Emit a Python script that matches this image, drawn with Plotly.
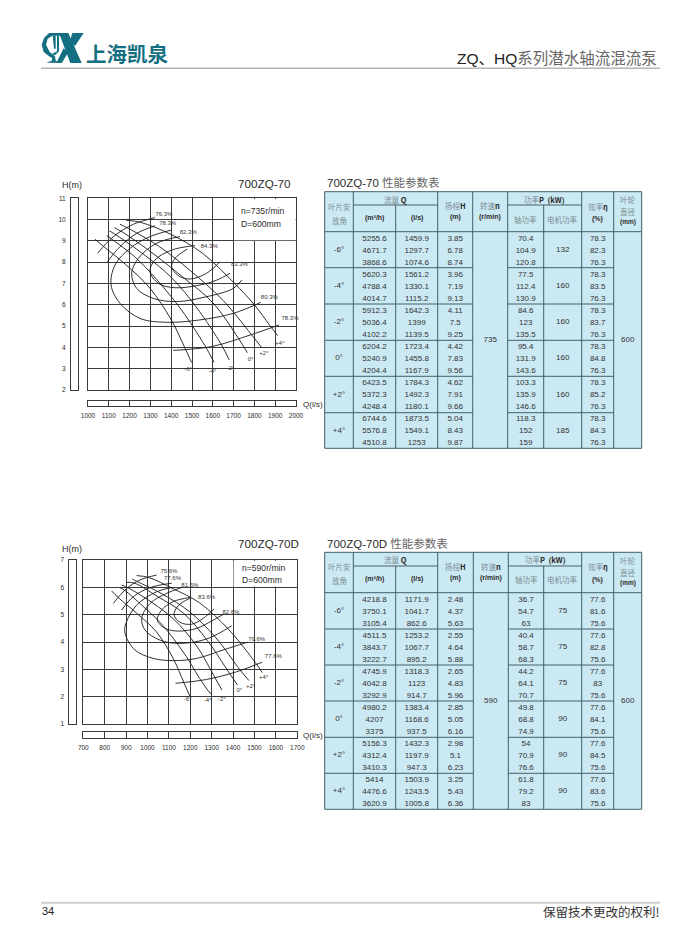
import plotly.graph_objects as go

W, H = 700, 950
SANS = "Liberation Sans, Arial, sans-serif"
CJK = "Noto Sans CJK SC, sans-serif"
TEAL = "#146f82"
GRID = "#3a3a3a"
INK = "#2b2b2b"
CJKGREY = "#7d8f95"
FILL = "#cbe9f2"
RULE = "#40606a"

# ---------- chart 1: 700ZQ-70 ----------
C1_ANGLE_LABELS = ["-6°", "-4°", "-2°", "0°", "+2°", "+4°"]
C1_ANGLE_Q = [1482, 1599, 1684, 1782, 1846, 1923]
C1_ANGLE_H = [2.94, 2.89, 2.99, 3.44, 3.69, 4.19]
C1_HQ_Q = [
    [1034, 1074.6, 1180, 1297.7, 1400, 1459.9, 1498],
    [1090, 1225, 1330, 1450, 1561, 1606],
    [1103, 1139.5, 1270, 1399, 1520, 1642.3, 1679],
    [1127, 1167.9, 1300, 1455.8, 1600, 1723.4, 1766],
    [1154, 1180, 1340, 1492.3, 1650, 1784.3, 1835],
    [1183, 1253, 1400, 1549.1, 1700, 1800, 1873.5, 1912],
]
C1_HQ_H = [
    [9.08, 8.74, 7.9, 6.78, 5.3, 4.1, 3.29],
    [9.25, 8.25, 7.19, 5.75, 4.1, 3.3],
    [9.47, 9.25, 8.35, 7.3, 5.9, 4.11, 3.41],
    [9.62, 9.4, 8.5, 7.3, 6.1, 4.42, 3.75],
    [9.78, 9.66, 8.75, 7.6, 6.2, 4.62, 3.99],
    [9.97, 9.87, 9.3, 8.43, 7.05, 6.0, 5.04, 4.55],
]
C1_EFF_Q = [
    [1046.5, 1122, 1218, 1322],
    [1093, 1154, 1234, 1322],
    [1402, 1298, 1202, 1130, 1111, 1154, 1250, 1378, 1538, 1699, 1830],
    [1442, 1330, 1242, 1210, 1234, 1314, 1426, 1570, 1699, 1739],
    [1514, 1402, 1322, 1298, 1338, 1418, 1538, 1619, 1683],
    [1478, 1418, 1402, 1434, 1490, 1570, 1635],
    [1410, 1595, 1779, 1918],
]
C1_EFF_H = [
    [8.42, 9.20, 9.78, 10.09],
    [8.02, 8.73, 9.35, 9.71],
    [9.51, 9.20, 8.65, 7.87, 6.93, 6.07, 5.36, 5.18, 5.29, 5.60, 6.11],
    [9.20, 8.89, 8.18, 7.48, 6.77, 6.30, 6.15, 6.38, 6.77, 7.16],
    [8.78, 8.57, 8.10, 7.56, 7.01, 6.80, 6.93, 7.16, 7.48],
    [8.62, 8.18, 7.79, 7.37, 7.21, 7.48, 8.02],
    [3.86, 4.04, 4.58, 5.05],
]
C1_EFF_LABELS = ["76.3%", "78.3%", "82.3%", "84.3%", "83.3%", "80.3%", "78.3%"]
C1_EFF_LQ = [1365, 1383, 1482, 1583, 1728, 1872, 1971]
C1_EFF_LH = [10.22, 9.83, 9.40, 8.76, 7.87, 6.35, 5.37]

# ---------- chart 2: 700ZQ-70D ----------
C2_ANGLE_LABELS = ["-6°", "-4°", "-2°", "0°", "+2°", "+4°"]
C2_ANGLE_Q = [1188, 1281, 1348, 1429, 1482, 1543]
C2_ANGLE_H = [1.88, 1.85, 1.91, 2.22, 2.39, 2.70]
C2_HQ_Q = [
    [832, 862.6, 950, 1041.7, 1120, 1171.9, 1198],
    [871, 895.2, 980, 1067.7, 1170, 1253.2, 1295],
    [879, 914.7, 1020, 1123, 1230, 1318.3, 1348],
    [902, 937.5, 1050, 1168.6, 1280, 1383.4, 1420],
    [929, 947.3, 1070, 1197.9, 1320, 1432.3, 1474],
    [949, 1005.8, 1120, 1243.5, 1380, 1503.9, 1536],
]
C2_HQ_H = [
    [5.87, 5.63, 5.05, 4.37, 3.4, 2.48, 2.02],
    [5.99, 5.88, 5.3, 4.64, 3.6, 2.55, 2.10],
    [6.09, 5.96, 5.45, 4.83, 3.85, 2.65, 2.24],
    [6.18, 6.16, 5.65, 5.05, 4.05, 2.85, 2.43],
    [6.30, 6.23, 5.75, 5.1, 4.15, 2.98, 2.59],
    [6.43, 6.36, 5.95, 5.43, 4.45, 3.25, 2.88],
]
C2_EFF_Q = [
    [840, 903, 965, 1043],
    [879, 934, 1012, 1113],
    [1113, 1043, 949, 899, 895, 941, 1027, 1121, 1230, 1354, 1466],
    [1159, 1089, 1012, 973, 988, 1058, 1152, 1276, 1393],
    [1198, 1121, 1066, 1046, 1082, 1144, 1230, 1300, 1354],
    [1198, 1144, 1124, 1152, 1206, 1261, 1311],
    [1131, 1276, 1416, 1536],
]
C2_EFF_H = [
    [5.41, 5.96, 6.27, 6.45],
    [5.17, 5.66, 5.99, 6.15],
    [5.99, 5.84, 5.35, 4.68, 4.32, 3.71, 3.40, 3.32, 3.40, 3.71, 3.99],
    [5.99, 5.78, 5.41, 4.87, 4.44, 4.07, 3.95, 4.11, 4.59],
    [5.63, 5.48, 5.17, 4.80, 4.50, 4.40, 4.50, 4.77, 5.01],
    [5.60, 5.33, 4.99, 4.72, 4.65, 4.87, 5.21],
    [2.49, 2.63, 2.91, 3.26],
]
C2_EFF_LABELS = ["75.6%", "77.6%", "81.5%", "83.6%", "82.6%", "79.6%", "77.6%"]
C2_EFF_LQ = [1100, 1117, 1198, 1276, 1390, 1510, 1588]
C2_EFF_LH = [6.57, 6.33, 6.06, 5.62, 5.09, 4.10, 3.46]

# ---------- tables ----------
T1_ANGLES = ["-6°", "-4°", "-2°", "0°", "+2°", "+4°"]
T1_M3H = ["5255.6", "4671.7", "3868.6", "5620.3", "4788.4", "4014.7", "5912.3", "5036.4", "4102.2",
          "6204.2", "5240.9", "4204.4", "6423.5", "5372.3", "4248.4", "6744.6", "5576.8", "4510.8"]
T1_LS = ["1459.9", "1297.7", "1074.6", "1561.2", "1330.1", "1115.2", "1642.3", "1399", "1139.5",
         "1723.4", "1455.8", "1167.9", "1784.3", "1492.3", "1180.1", "1873.5", "1549.1", "1253"]
T1_HEAD = ["3.85", "6.78", "8.74", "3.96", "7.19", "9.13", "4.11", "7.5", "9.25",
           "4.42", "7.83", "9.56", "4.62", "7.91", "9.66", "5.04", "8.43", "9.87"]
T1_SHAFT = ["70.4", "104.9", "120.8", "77.5", "112.4", "130.9", "84.6", "123", "135.5",
            "95.4", "131.9", "143.6", "103.3", "135.9", "146.6", "118.3", "152", "159"]
T1_MOTOR = ["132", "160", "160", "160", "160", "185"]
T1_EFF = ["78.3", "82.3", "76.3", "78.3", "83.5", "76.3", "78.3", "83.7", "76.3",
          "78.3", "84.8", "76.3", "78.3", "85.2", "76.3", "78.3", "84.3", "76.3"]

T2_ANGLES = ["-6°", "-4°", "-2°", "0°", "+2°", "+4°"]
T2_M3H = ["4218.8", "3750.1", "3105.4", "4511.5", "3843.7", "3222.7", "4745.9", "4042.8", "3292.9",
          "4980.2", "4207", "3375", "5156.3", "4312.4", "3410.3", "5414", "4476.6", "3620.9"]
T2_LS = ["1171.9", "1041.7", "862.6", "1253.2", "1067.7", "895.2", "1318.3", "1123", "914.7",
         "1383.4", "1168.6", "937.5", "1432.3", "1197.9", "947.3", "1503.9", "1243.5", "1005.8"]
T2_HEAD = ["2.48", "4.37", "5.63", "2.55", "4.64", "5.88", "2.65", "4.83", "5.96",
           "2.85", "5.05", "6.16", "2.98", "5.1", "6.23", "3.25", "5.43", "6.36"]
T2_SHAFT = ["36.7", "54.7", "63", "40.4", "58.7", "68.3", "44.2", "64.1", "70.7",
            "49.8", "68.8", "74.9", "54", "70.9", "76.6", "61.8", "79.2", "83"]
T2_MOTOR = ["75", "75", "75", "90", "90", "90"]
T2_EFF = ["77.6", "81.6", "75.6", "77.6", "82.8", "75.6", "77.6", "83", "75.6",
          "77.6", "84.1", "75.6", "77.6", "84.5", "75.6", "77.6", "83.6", "75.6"]

# logo outline polygons, read from the letterhead
LOGO = [
    [(42, 15), (27, 30), (20, 50), (26, 72), (42, 85), (52, 90), (50, 98), (34, 104), (74, 104), (62, 98), (60, 85),
     (44, 72), (33, 50), (38, 32), (52, 23), (90, 23), (90, 15)],
    [(53, 23), (62, 23), (62, 62), (57, 62)],
    [(72, 23), (66, 23), (66, 70), (50, 78), (60, 82), (72, 70)],
    [(72, 15), (100, 15), (140, 105), (106, 105)],
    [(112, 15), (146, 15), (120, 54), (104, 42)],
    [(86, 60), (98, 76), (80, 105), (64, 105)],
]

fig = go.Figure()
shapes, annots = [], []
layout_axes = {}


def xdom(a, b):
    return [a / W, b / W]


def ydom(top, bottom):
    return [1 - bottom / H, 1 - top / H]


def add_axes(n, xdomain, ydomain, xcfg, ycfg):
    sx = "" if n == 1 else str(n)
    base = dict(showline=True, linecolor=GRID, linewidth=1, mirror=True, zeroline=False, showgrid=False,
                showticklabels=False, ticks="", fixedrange=True, automargin=False)
    layout_axes["xaxis" + sx] = {**base, "domain": xdomain, "anchor": "y" + sx, **xcfg}
    layout_axes["yaxis" + sx] = {**base, "domain": ydomain, "anchor": "x" + sx, **ycfg}
    return "x" + sx, "y" + sx


def chart(n, box, xr, yr, strip_x, strip_y, info_x0, info_y0, data):
    left, right, top, bottom = box
    grid = dict(showgrid=True, gridcolor=GRID, gridwidth=1)
    xa, ya = add_axes(n, xdom(left, right), ydom(top, bottom),
                      dict(range=xr, dtick=100, tick0=xr[0], **grid), dict(range=yr, dtick=1, tick0=yr[0], **grid))
    # strip with Q ticks
    xs, ys = add_axes(n + 1, xdom(left, right), ydom(*strip_y),
                      dict(range=xr, dtick=100, tick0=xr[0], showgrid=True, gridcolor=GRID, gridwidth=1,
                           showticklabels=True, ticks="outside", ticklen=3, tickcolor="rgba(0,0,0,0)",
                           tickfont=dict(family=SANS, size=6.5, color=INK)),
                      dict(range=[0, 1]))
    # strip with H ticks
    xh, yh = add_axes(n + 2, xdom(*strip_x), ydom(top, bottom),
                      dict(range=[0, 1]),
                      dict(range=yr, dtick=1, tick0=yr[0], showticklabels=True, ticks="outside", ticklen=3,
                           tickcolor="rgba(0,0,0,0)", tickfont=dict(family=SANS, size=6.5, color=INK)))
    for a, b in ((xs, ys), (xh, yh)):
        fig.add_trace(go.Scatter(x=[None], y=[None], xaxis=a, yaxis=b, showlegend=False, hoverinfo="skip"))
    # blank the grid behind the info box
    shapes.append(dict(type="rect", xref=xa, yref=ya, layer="between", line_width=0, fillcolor="white",
                       x0=info_x0 + 2, x1=xr[1] - 2, y0=info_y0 + 0.03, y1=yr[1] - 0.03))
    for q, h in zip(data["hq_q"], data["hq_h"]):
        fig.add_trace(go.Scatter(x=q, y=h, xaxis=xa, yaxis=ya, mode="lines", showlegend=False, hoverinfo="skip",
                                 line=dict(color="#1a1a1a", width=0.9, shape="spline", smoothing=1)))
    for q, h in zip(data["eff_q"], data["eff_h"]):
        fig.add_trace(go.Scatter(x=q, y=h, xaxis=xa, yaxis=ya, mode="lines", showlegend=False, hoverinfo="skip",
                                 line=dict(color="#1a1a1a", width=0.9, shape="spline", smoothing=1)))
    fig.add_trace(go.Scatter(x=data["ang_q"] + data["lab_q"], y=data["ang_h"] + data["lab_h"],
                             text=data["ang"] + data["lab"], xaxis=xa, yaxis=ya, mode="text", cliponaxis=False,
                             showlegend=False, hoverinfo="skip",
                             textfont=dict(family=SANS, size=6, color="#333333")))


chart(1, (88, 296, 198.3, 390), [1000, 2000], [2, 11], (71, 78), (400.7, 406), 1700, 9,
      dict(hq_q=C1_HQ_Q, hq_h=C1_HQ_H, eff_q=C1_EFF_Q, eff_h=C1_EFF_H, ang=C1_ANGLE_LABELS, ang_q=C1_ANGLE_Q,
           ang_h=C1_ANGLE_H, lab=C1_EFF_LABELS, lab_q=C1_EFF_LQ, lab_h=C1_EFF_LH))
chart(4, (83.3, 297.3, 560, 724), [700, 1700], [1, 7], (69.3, 75.7), (732.3, 737.7), 1400, 6,
      dict(hq_q=C2_HQ_Q, hq_h=C2_HQ_H, eff_q=C2_EFF_Q, eff_h=C2_EFF_H, ang=C2_ANGLE_LABELS, ang_q=C2_ANGLE_Q,
           ang_h=C2_ANGLE_H, lab=C2_EFF_LABELS, lab_q=C2_EFF_LQ, lab_h=C2_EFF_LH))

# page overlay: a full-page pair of axes measured in page pixels
PX, PY = add_axes(7, [0, 1], [0, 1], dict(range=[0, W], showline=False, mirror=False),
                  dict(range=[H, 0], showline=False, mirror=False))


def text(x, y, s, size=8, color=INK, family=SANS, anchor="center"):
    annots.append(dict(x=x, y=y, xref=PX, yref=PY, text=s, showarrow=False, xanchor=anchor, yanchor="middle",
                       borderpad=0, font=dict(family=family, size=size, color=color)))


def line(x0, y0, x1, y1, color=RULE, width=1):
    shapes.append(dict(type="line", xref=PX, yref=PY, x0=x0, x1=x1, y0=y0, y1=y1, line=dict(color=color, width=width)))


def cj(s):
    return f'<span style="color:{CJKGREY}">{s}</span>'


def table(cols, top, mid, head_bottom, blocks, n, dia, angles, m3h, ls, head, shaft, motor, eff):
    shapes.append(dict(type="rect", xref=PX, yref=PY, layer="below", x0=cols[0], x1=cols[-1], y0=top, y1=blocks[-1],
                       fillcolor=FILL, line=dict(color=RULE, width=1)))
    bottom = blocks[-1]
    for x in cols[1:-1]:
        if x in (cols[2], cols[6]):
            continue
        line(x, top, x, bottom)
    line(cols[2], mid, cols[2], bottom)
    line(cols[6], mid, cols[6], bottom)
    line(cols[1], mid, cols[3], mid)
    line(cols[5], mid, cols[7], mid)
    line(cols[0], head_bottom, cols[-1], head_bottom)
    for y in blocks[:-1]:
        line(cols[0], y, cols[4], y)
        line(cols[5], y, cols[8], y)
    c = [(cols[i] + cols[i + 1]) / 2 for i in range(len(cols) - 1)]
    text(c[0], top + 14.3, cj("叶片安"), 7.5, family=CJK)
    text(c[0], top + 28.3, cj("放角"), 7.5, family=CJK)
    text((cols[1] + cols[3]) / 2, top + 7.6, cj("流量") + " <b>Q</b>", 7.5, family=CJK)
    text(c[1], top + 26.6, "<b>(m³/h)</b>", 7)
    text(c[2], top + 26.6, "<b>(l/s)</b>", 7)
    text(c[3], top + 14, cj("扬程") + "<b>H</b>", 7.5, family=CJK)
    text(c[3], top + 25.6, "<b>(m)</b>", 7)
    text(c[4], top + 14, cj("转速") + "<b>n</b>", 7.5, family=CJK)
    text(c[4], top + 25.6, "<b>(r/min)</b>", 7)
    text((cols[5] + cols[7]) / 2, top + 7.6, cj("功率") + "<b>P  (kW)</b>", 7.5, family=CJK)
    text(c[5], top + 27.6, cj("轴功率"), 7.5, family=CJK)
    text(c[6], top + 27.6, cj("电机功率"), 7.5, family=CJK)
    text(c[7], top + 14.3, cj("效率") + "<b>η</b>", 7.5, family=CJK)
    text(c[7], top + 27.6, "<b>(%)</b>", 7)
    text(c[8], top + 8, cj("叶轮"), 7.5, family=CJK)
    text(c[8], top + 20, cj("直径"), 7.5, family=CJK)
    text(c[8], top + 30.5, "<b>(mm)</b>", 6.5)

    tx, ty, ts = [], [], []
    prev = head_bottom
    for b, y_end in enumerate(blocks):
        rh = (y_end - prev) / 3
        tx.append(c[0]); ty.append((prev + y_end) / 2); ts.append(angles[b])
        tx.append(c[6]); ty.append((prev + y_end) / 2); ts.append(motor[b])
        for j in range(3):
            y = prev + (j + 0.5) * rh + 0.8
            k = b * 3 + j
            for col, arr in ((1, m3h), (2, ls), (3, head), (5, shaft), (7, eff)):
                tx.append(c[col]); ty.append(y); ts.append(arr[k])
        prev = y_end
    center = (head_bottom + bottom) / 2
    tx += [c[4], c[8]]; ty += [center, center]; ts += [n, dia]
    fig.add_trace(go.Scatter(x=tx, y=ty, text=ts, xaxis=PX, yaxis=PY, mode="text", showlegend=False, hoverinfo="skip",
                             textfont=dict(family=SANS, size=8, color="#333333")))


table([324.7, 353.3, 395.7, 437.7, 472.7, 507.7, 543.7, 581.7, 613.7, 641.7], 191.7, 205, 231.7,
      [267.7, 304, 340.3, 376.3, 412.7, 448.3], "735", "600",
      T1_ANGLES, T1_M3H, T1_LS, T1_HEAD, T1_SHAFT, T1_MOTOR, T1_EFF)
table([324.7, 353.3, 395.7, 437.7, 473.3, 508.3, 543.7, 581.7, 613.7, 641.7], 552.3, 566, 592.7,
      [629, 665, 701, 737.3, 773.3, 809.3], "590", "600",
      T2_ANGLES, T2_M3H, T2_LS, T2_HEAD, T2_SHAFT, T2_MOTOR, T2_EFF)

# chart and table captions
text(71.5, 185, "H(m)", 9, anchor="center")
text(237, 183, "700ZQ-70", 11.7, anchor="left")
text(240, 210.7, "n=735r/min", 8.6, anchor="left")
text(240, 224, "D=600mm", 8.6, anchor="left")
text(302, 404, "Q(l/s)", 8, anchor="left")
text(325.5, 182, '700ZQ-70 <span style="color:#666">性能参数表</span>', 11.5, family=f"Liberation Sans, {CJK}", anchor="left")

text(71.5, 549, "H(m)", 9, anchor="center")
text(237, 543, "700ZQ-70D", 11.7, anchor="left")
text(241, 567.7, "n=590r/min", 8.6, anchor="left")
text(241, 580, "D=600mm", 8.6, anchor="left")
text(302, 735.7, "Q(l/s)", 8, anchor="left")
text(325.5, 543, '700ZQ-70D <span style="color:#666">性能参数表</span>', 11.5, family=f"Liberation Sans, {CJK}", anchor="left")

# letterhead and footer
text(85, 53, "<b>上海凯泉</b>", 20.5, color=TEAL, family=CJK, anchor="left")
text(658, 58, 'ZQ、HQ<span style="color:#666">系列潜水轴流混流泵</span>', 15.5, color="#222",
     family=f"Liberation Sans, {CJK}", anchor="right")
line(41, 68.3, 660, 68.3, color="#b5b5b5", width=1.5)
line(41, 902.7, 660, 902.7, color="#cccccc", width=2)
text(41, 911, "34", 11, color="#222", anchor="left")
text(661, 911, "保留技术更改的权利!", 12.5, color="#333", family=CJK, anchor="right")

for poly in LOGO:
    pts = [(35 + zx / 3, 28 + zy / 3) for zx, zy in poly]
    path = "M " + " L ".join(f"{a:.1f} {b:.1f}" for a, b in pts) + " Z"
    shapes.append(dict(type="path", xref=PX, yref=PY, path=path, fillcolor=TEAL, line_width=0))

fig.add_trace(go.Scatter(x=[None], y=[None], xaxis=PX, yaxis=PY, showlegend=False, hoverinfo="skip"))
fig.update_layout(width=W, height=H, margin=dict(l=0, r=0, t=0, b=0, pad=0, autoexpand=False), paper_bgcolor="white",
                  plot_bgcolor="rgba(0,0,0,0)", showlegend=False, shapes=shapes, annotations=annots, **layout_axes)
fig.write_html("out.html", config=dict(displayModeBar=False),
               post_script="document.body.style.margin='0';document.documentElement.style.overflow='hidden';")
